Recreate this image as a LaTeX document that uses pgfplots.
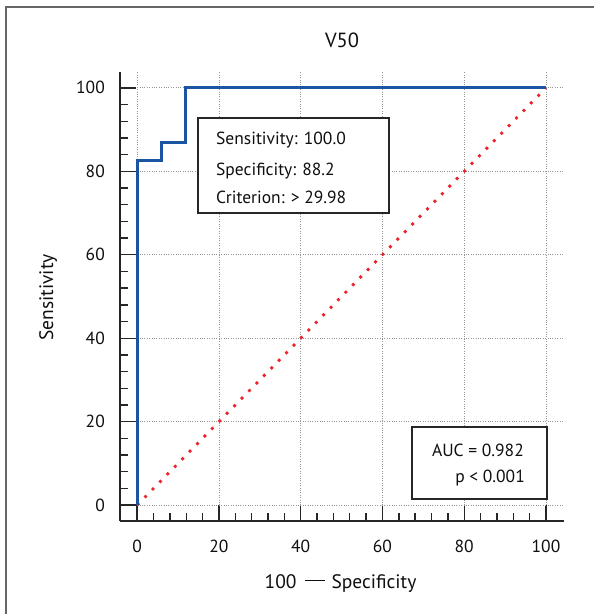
\documentclass[border=0pt]{standalone}
\usepackage{pgfplots}
\pgfplotsset{compat=1.18}
\usepackage{fontspec}
\setmainfont{PT Sans}
\definecolor{rocblue}{RGB}{28,84,164}
\definecolor{diagred}{RGB}{235,35,45}
\definecolor{gridgray}{RGB}{150,150,150}
\definecolor{txt}{RGB}{15,15,15}
\begin{document}
\fontsize{17.5}{21}\selectfont
\begin{tikzpicture}
\useasboundingbox (0pt,0pt) rectangle (594pt,614pt);
\draw[color=black!60, line width=1.3pt] (6pt,0pt) -- (6pt,607pt) -- (594pt,607pt);
\node[txt, anchor=base, inner sep=0pt, font=\fontsize{20.5}{24}\selectfont] at (342pt,566pt) {V50};
\begin{axis}[at={(120pt,93pt)}, anchor=south west, scale only axis,
  width=444pt, height=449pt,
  xmin=-4.2, xmax=104.4, ymin=-3.8, ymax=103.8,
  axis x line*=bottom, axis y line*=left,
  axis line style={-, line width=1.4pt, black!85},
  tick align=inside, major tick length=16pt, minor tick length=8pt,
  minor tick num=4,
  tick style={line width=1.4pt, black!85},
  xtick={0,20,40,60,80,100}, ytick={0,20,40,60,80,100},
  /pgf/number format/assume math mode=true,
  ticklabel style={font=\fontsize{17.5}{21}\selectfont, text=txt, inner sep=0pt},
  yticklabel style={anchor=east},
  xticklabel style={anchor=north},
  yticklabel shift=15pt, xticklabel shift=19pt,
  clip=false]
\pgfplotsinvokeforeach{0,20,40,60,80,100}{
  \draw[gridgray, line width=0.8pt, dash pattern=on 0.8pt off 1.6pt] (axis cs:0,#1) -- (axis cs:104.4,#1);
  \draw[gridgray, line width=0.8pt, dash pattern=on 0.8pt off 1.6pt] (axis cs:#1,0) -- (axis cs:#1,103.8);
}
\addplot[diagred, line width=2.8pt, dash pattern=on 2.8pt off 7.8pt] coordinates {(0,0) (100,100)};
\addplot[rocblue, line width=2.8pt, line join=miter] coordinates {(0,0) (0,82.6) (5.88,82.6) (5.88,87.0) (11.76,87.0) (11.76,100) (100,100)};
\end{axis}
\draw[black!85, line width=1.3pt, fill=white] (198pt,401pt) rectangle (389pt,496pt);
\node[txt, anchor=base west, inner sep=0pt] at (216pt,469pt) {Sensitivity: 100.0};
\node[txt, anchor=base west, inner sep=0pt] at (216pt,438pt) {Specificity: 88.2};
\node[txt, anchor=base west, inner sep=0pt] at (216pt,410pt) {Criterion: > 29.98};
\draw[black!85, line width=1.3pt, fill=white] (412pt,115pt) rectangle (547pt,187pt);
\node[txt, anchor=base east, inner sep=0pt] at (524pt,157pt) {AUC = 0.982};
\node[txt, anchor=base east, inner sep=0pt] at (525pt,131pt) {p < 0.001};
\node[txt, anchor=base, inner sep=0pt, font=\fontsize{19.5}{23}\selectfont] at (340.5pt,26pt) {100\hspace{8pt}\raisebox{7pt}{\rule{20pt}{1.2pt}}\hspace{7pt}Specificity};
\node[txt, anchor=base, inner sep=0pt, rotate=90, font=\fontsize{19.5}{23}\selectfont] at (53pt,316.5pt) {Sensitivity};
\end{tikzpicture}
\end{document}
